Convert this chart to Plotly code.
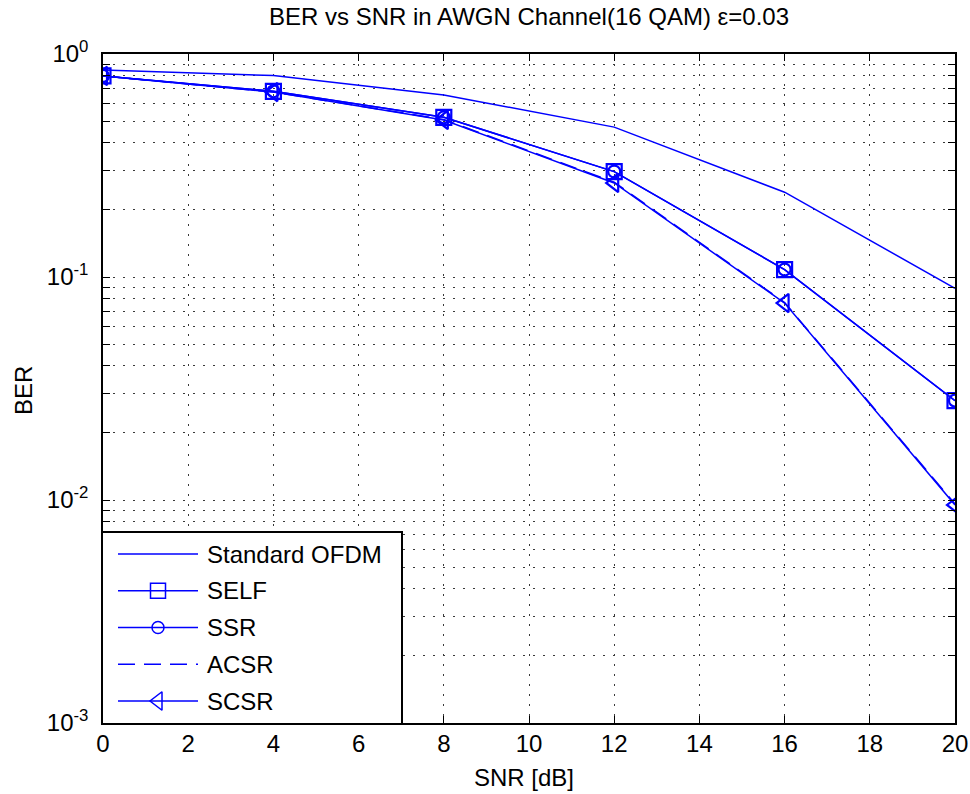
import plotly.graph_objects as go

# ---------------- data ----------------
snr = [0, 4, 8, 12, 16, 20]
ber_standard = [0.848, 0.80, 0.655, 0.470, 0.240, 0.089]
ber_self = [0.797, 0.680, 0.520, 0.297, 0.108, 0.0279]
ber_ssr = [0.797, 0.680, 0.520, 0.297, 0.108, 0.0279]
ber_acsr = [0.797, 0.675, 0.508, 0.266, 0.0768, 0.0096]
ber_scsr = [0.797, 0.675, 0.506, 0.264, 0.0764, 0.0095]

series_names = ["Standard OFDM", "SELF", "SSR", "ACSR", "SCSR"]
series_values = [ber_standard, ber_self, ber_ssr, ber_acsr, ber_scsr]
series_symbols = [None, "square-open", "circle-open", None, "triangle-left-open"]
series_dash = ["solid", "solid", "solid", "17px,9px", "solid"]
series_msize = [0, 15, 12, 0, 16]

x_ticks = list(range(0, 21, 2))
y_tickvals = [1e-3, 1e-2, 1e-1, 1e0]
y_ticktext = ["10<sup>-3</sup>", "10<sup>-2</sup>", "10<sup>-1</sup>", "10<sup>0</sup>"]
y_minor = [k * 10.0 ** e for e in (-3, -2, -1) for k in range(2, 10)]

title_text = "BER vs SNR in AWGN Channel(16 QAM) \u03b5=0.03"
x_label = "SNR [dB]"
y_label = "BER"

# ---------------- style ----------------
BLUE = "#0000ff"
FONT = "Liberation Sans, Arial, sans-serif"
FS = 24
GRID = dict(showgrid=True, gridcolor="#3a3a3a", gridwidth=1, griddash="2px,8px")

W, H = 970, 794
L, R, T, B = 103, 15, 54, 71
pw, ph = W - L - R, H - T - B

fig = go.Figure()

for name, vals, sym, dash, ms in zip(series_names, series_values, series_symbols, series_dash, series_msize):
    mode = "lines+markers" if sym else "lines"
    fig.add_trace(go.Scatter(
        x=snr, y=vals, mode=mode, name=name, showlegend=False,
        line=dict(color=BLUE, width=1.5, dash=dash),
        marker=dict(symbol=sym or "circle", size=ms, color=BLUE, line=dict(color=BLUE, width=2.2)),
        xaxis="x", yaxis="y",
    ))

# ---------------- custom legend (separate overlapping subplot) ----------------
leg_w, leg_h = 298, 190
row_first, row_step = 21, 36.75
for i, (name, sym, dash, ms) in enumerate(zip(series_names, series_symbols, series_dash, series_msize)):
    fig.add_trace(go.Scatter(
        x=[15, 95], y=[i, i], mode="lines", showlegend=False, hoverinfo="skip",
        line=dict(color=BLUE, width=1.5, dash=dash), xaxis="x2", yaxis="y2",
    ))
    if sym:
        fig.add_trace(go.Scatter(
            x=[55], y=[i], mode="markers", showlegend=False, hoverinfo="skip",
            marker=dict(symbol=sym, size=ms, color=BLUE, line=dict(color=BLUE, width=1.5)),
            xaxis="x2", yaxis="y2",
        ))
    fig.add_annotation(x=102, y=i, xref="x2", yref="y2", text=name, showarrow=False,
                       xanchor="left", yanchor="middle", font=dict(family=FONT, size=FS, color="black"))

axis_common = dict(
    showline=True, linecolor="black", linewidth=1.5, mirror="allticks",
    ticks="inside", ticklen=7, tickcolor="black", tickwidth=1,
    tickfont=dict(family=FONT, size=FS, color="black"), zeroline=False, automargin=False,
)

fig.update_layout(
    width=W, height=H, autosize=False,
    margin=dict(l=L, r=R, t=T, b=B, pad=0, autoexpand=False),
    paper_bgcolor="white", plot_bgcolor="white",
    font=dict(family=FONT, size=FS, color="black"),
    title=dict(text=title_text, x=0.5, xanchor="center", xref="paper",
               y=1 - 17 / H, yanchor="middle", yref="container", automargin=False,
               font=dict(family=FONT, size=FS, color="black")),
    xaxis=dict(range=[0, 20], tickvals=x_ticks, domain=[0, 1], anchor="y",
               ticklabelstandoff=-2, **GRID, **axis_common),
    yaxis=dict(type="log", range=[-3, 0], tickvals=y_tickvals, ticktext=y_ticktext,
               domain=[0, 1], anchor="x", ticklabelstandoff=8,
               minor=dict(tickvals=y_minor, ticks="inside", ticklen=7, tickcolor="black",
                          showgrid=True, gridcolor="#3a3a3a", gridwidth=1, griddash="2px,8px"),
               **GRID, **axis_common),
    xaxis2=dict(domain=[0, leg_w / pw], anchor="y2", range=[0, leg_w], showgrid=False,
                zeroline=False, showticklabels=False, ticks="", showline=True, automargin=False,
                linecolor="black", linewidth=1.5, mirror=True, fixedrange=True),
    yaxis2=dict(domain=[0, leg_h / ph], anchor="x2",
                range=[(leg_h - row_first) / row_step, -row_first / row_step],
                showgrid=False, zeroline=False, showticklabels=False, ticks="", showline=True,
                automargin=False,
                linecolor="black", linewidth=1.5, mirror=True, fixedrange=True),
    showlegend=False,
)

fig.add_annotation(text=x_label, xref="paper", yref="paper", x=(524 - L) / pw, y=(T + ph - 777) / ph,
                   xanchor="center", yanchor="middle", showarrow=False,
                   font=dict(family=FONT, size=FS, color="black"))
fig.add_annotation(text=y_label, xref="paper", yref="paper", x=(23 - L) / pw, y=(T + ph - 391) / ph,
                   xanchor="center", yanchor="middle", showarrow=False, textangle=-90,
                   font=dict(family=FONT, size=FS, color="black"))

fig.write_html("out.html")
